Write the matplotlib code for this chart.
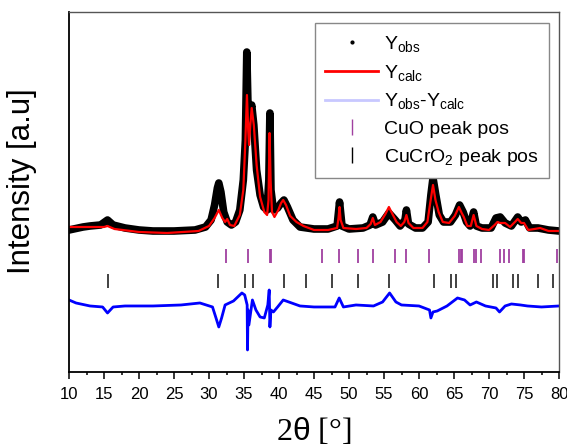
import numpy as np
import matplotlib
matplotlib.use('Agg')
import matplotlib.pyplot as plt

plt.rcParams['font.family'] = 'Liberation Sans'
plt.rcParams['mathtext.fontset'] = 'custom'
plt.rcParams['mathtext.rm'] = 'Liberation Sans'
plt.rcParams['mathtext.it'] = 'Liberation Sans'

# observed pattern (2theta, intensity a.u.)
obs_x = [10, 12, 13, 14.5, 15.5, 16.3, 18, 20, 22, 25, 28, 29.5, 30.3, 30.8, 31.2, 31.4,
         31.7, 32.1, 32.6, 33.2, 33.8, 34.4, 34.9, 35.2, 35.4, 35.55, 35.8, 36.1, 36.4,
         36.8, 37.3, 37.8, 38.3, 38.55, 38.7, 38.85, 39.2, 39.8, 40.3, 40.7, 41.2, 42,
         43, 45, 47, 48.3, 48.65, 49.0, 50, 52, 53.0, 53.4, 53.8, 54.8, 55.7, 56.6, 57.3,
         58.0, 58.2, 58.5, 59.5, 60.5, 61.3, 61.7, 62.0, 62.4, 62.9, 63.5, 64.5, 65.2,
         65.8, 66.3, 66.8, 67.3, 67.8, 68.2, 69, 70.3, 71.0, 71.6, 72.3, 73.2, 74.1, 74.6,
         75.2, 75.8, 77, 78.5, 80]
obs_y = [142, 145, 146, 147, 152, 147, 144, 142, 141, 141, 142, 145, 152, 167, 184, 189,
         180, 160, 150, 147, 150, 162, 192, 232, 320, 272, 257, 267, 247,
         202, 177, 165, 162, 192, 259, 182, 162, 164, 169, 172, 165, 152,
         145, 143, 143, 146, 170, 146, 143, 144, 147, 155, 147, 150, 159, 152, 146,
         152, 162, 148, 144, 144, 150, 177, 194, 177, 157, 150, 150, 157,
         167, 160, 150, 146, 160, 146, 144, 144, 154, 155, 149, 146, 155, 150,
         152, 144, 144, 142, 141]

# calculated profile
calc_x = [10, 15, 15.5, 16.5, 20, 24, 28.5, 30, 30.8, 31.4, 31.9, 32.3, 32.6, 33.0, 33.6,
          34.4, 34.9, 35.2, 35.42, 35.6, 35.72, 35.9, 36.1, 36.4, 36.8, 37.3, 37.9, 38.3,
          38.5, 38.65, 38.8, 39.0, 39.35, 39.9, 40.3, 40.6, 41.0, 41.6, 42.5, 43.5,
          45, 47, 48.3, 48.5, 48.65, 48.8, 49.2, 51, 52.5, 53.1, 53.4, 53.7, 54.5, 55.2,
          55.7, 56.2, 56.8, 57.4, 57.9, 58.2, 58.5, 59.2, 60.5, 61.2, 61.6, 62.0, 62.35,
          62.8, 63.4, 64.3, 65.1, 65.7, 66.1, 66.4, 66.9, 67.4, 67.8, 68.2, 69, 70.0,
          70.8, 71.2, 71.6, 72.3, 73.0, 73.7, 74.1, 74.6, 75.0, 75.6, 76.5, 77.3, 78.5, 80]
calc_y = [145, 145, 146, 143, 140, 139, 141, 146, 154, 162, 154, 150, 153, 147, 146,
          157, 182, 232, 277, 242, 227, 247, 264, 247, 207, 175, 160, 157,
          172, 239, 192, 160, 155, 162, 169, 172, 167, 156, 150, 146,
          142, 142, 144, 154, 165, 152, 144, 143, 144, 148, 154, 147, 150, 158,
          165, 158, 150, 146, 150, 157, 149, 144, 144, 150, 169, 187, 172,
          160, 150, 149, 156, 165, 159, 155, 146, 146, 157, 146, 143, 142,
          147, 150, 149, 149, 145, 150, 153, 149, 149, 142, 143, 144, 141, 141]

# difference curve (offset)
diff_x = [10, 11, 13, 14.8, 15.5, 16.3, 18, 22, 26, 28.7, 30.5, 31.0, 31.4, 31.8, 32.3,
          33.5, 34.7, 35.1, 35.45, 35.5, 35.58, 35.7, 36.2, 36.7, 37.3, 37.9, 38.4, 38.6,
          38.7, 38.85, 39.2, 39.8, 40.6, 41.8, 43, 45, 48, 48.6, 49.2, 51, 53.5, 54.8,
          55.8, 56.7, 57.5, 60, 61.5, 61.7, 62.0, 62.6, 64, 65.5, 66.5, 67.3, 68.2, 69.5,
          71.0, 71.5, 72.3, 73.2, 74.5, 75.5, 77.5, 80]
diff_y = [72, 69, 66, 65, 59, 65, 66, 66, 67, 69, 65, 54, 45, 54, 67,
          71, 79, 77, 67, 22, 62, 47, 72, 62, 55, 54, 67, 82,
          45, 62, 60, 65, 72, 69, 66, 65, 65, 74, 65, 67, 66, 70,
          79, 70, 67, 66, 62, 54, 60, 61, 66, 74, 72, 67, 70, 66,
          64, 60, 66, 68, 67, 66, 65, 66]

# reflection positions
cuo_pos = [32.4, 35.5, 38.7, 38.9, 46.2, 48.6, 51.3, 53.4, 56.6, 58.2, 61.4, 65.7, 66.0,
           66.2, 67.8, 68.1, 68.8, 71.5, 72.2, 72.8, 74.8, 75.0, 79.7]
cucro2_pos = [15.5, 31.3, 35.1, 36.3, 40.7, 43.9, 47.6, 51.3, 55.7, 62.2, 64.5, 65.3,
              70.5, 71.1, 73.4, 74.1, 77.0, 79.2]
cuo_row = 116
cucro2_row = 91

fig = plt.figure(figsize=(5.67, 4.46), dpi=100)
ax = fig.add_axes([0.1217, 0.166, 0.8642, 0.807])

ax.plot(obs_x, obs_y, color='black', lw=5.5, solid_joinstyle='round')
ax.plot(calc_x, calc_y, color='red', lw=1.6)
ax.plot(diff_x, diff_y, color='#0000ff', lw=2)
ax.plot(cuo_pos, [cuo_row] * len(cuo_pos), '|', color='#a040a0', ms=10, mew=1.3)
ax.plot(cucro2_pos, [cucro2_row] * len(cucro2_pos), '|', color='#333333', ms=10, mew=1.3)

# legend entries
h_obs, = ax.plot([], [], '.', color='black', ms=4)
h_calc, = ax.plot([], [], color='red', lw=2)
h_diff, = ax.plot([], [], color='#c8c8ff', lw=2)
h_cuo, = ax.plot([], [], '|', color='#a040a0', ms=12, mew=1)
h_cucro2, = ax.plot([], [], '|', color='black', ms=12, mew=1)
leg = ax.legend([h_obs, h_calc, h_diff, h_cuo, h_cucro2],
                [r'Y$_{\mathrm{obs}}$', r'Y$_{\mathrm{calc}}$',
                 r'Y$_{\mathrm{obs}}$-Y$_{\mathrm{calc}}$',
                 'CuO peak pos', r'CuCrO$_2$ peak pos'],
                loc='upper right', bbox_to_anchor=(0.98, 0.969), fontsize=14,
                fancybox=False, edgecolor='#888888', framealpha=1,
                handlelength=2.7, handletextpad=0.3, labelspacing=0.45,
                borderpad=0.55, borderaxespad=0)
leg.get_frame().set_linewidth(1)

ax.set_xlim(10, 80)
ax.set_ylim(0, 360)
ax.set_xticks(np.arange(10, 81, 5))
ax.set_xticks(np.arange(12.5, 80, 5), minor=True)
ax.set_yticks([])
ax.tick_params(axis='x', which='major', direction='out', length=5, width=1.1,
               labelsize=12, pad=6)
ax.tick_params(axis='x', which='minor', direction='out', length=2.5, width=1.1)

for s in ['left', 'bottom']:
    ax.spines[s].set_color('black')
    ax.spines[s].set_linewidth(1.3)
for s in ['top', 'right']:
    ax.spines[s].set_color('#555555')
    ax.spines[s].set_linewidth(1)

ax.set_ylabel('Intensity [a.u]', fontsize=22.5)
ax.yaxis.set_label_coords(-0.065, 0.53)
ax.set_xlabel(r'2$\theta$ [°]', fontsize=23, family='Liberation Serif', labelpad=10)

plt.savefig('out.png', dpi=100)
